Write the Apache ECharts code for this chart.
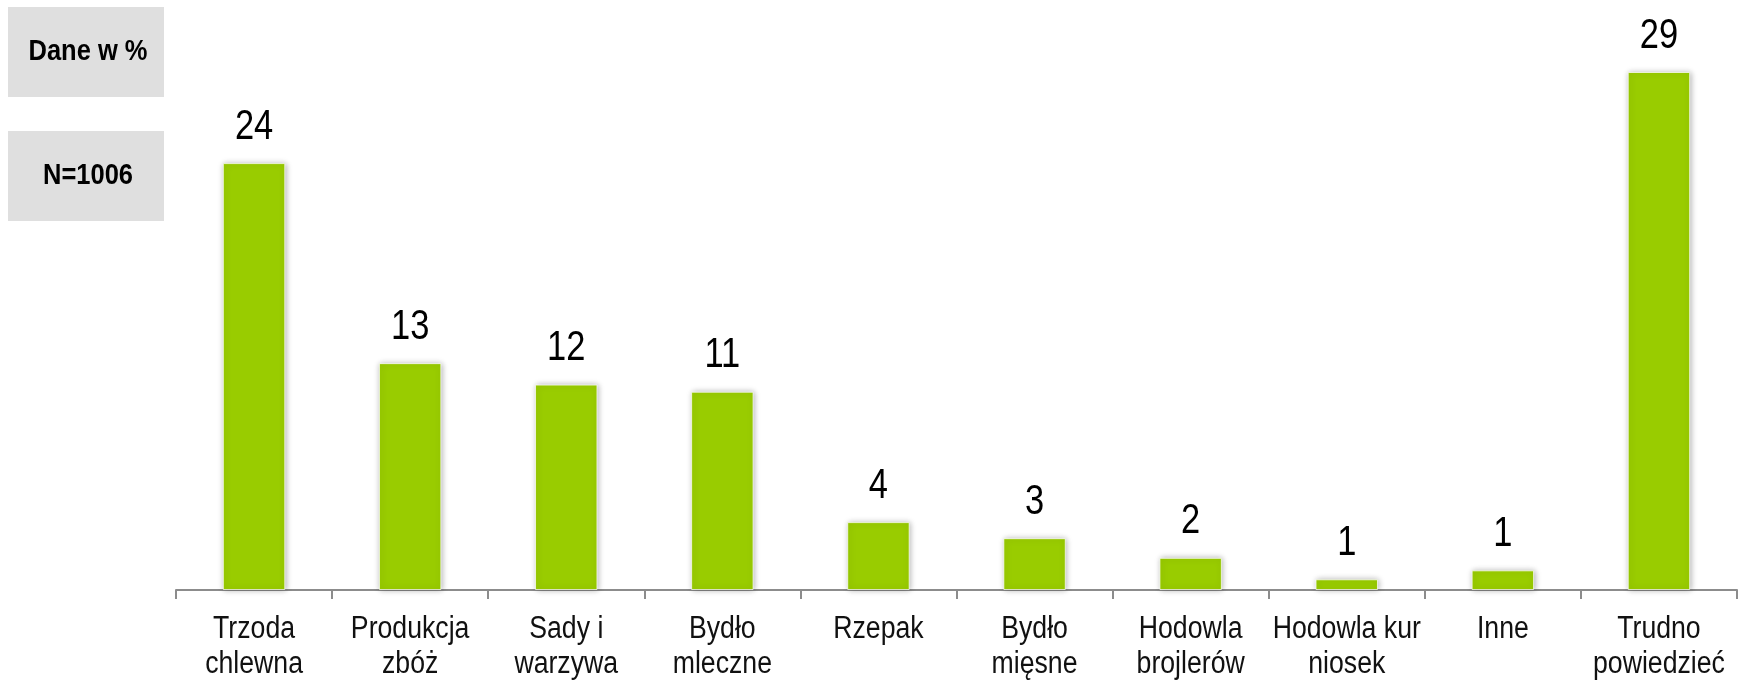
<!DOCTYPE html>
<html>
<head>
<meta charset="utf-8">
<script src="https://cdn.jsdelivr.net/npm/echarts@6/dist/echarts.min.js"></script>
<style>
  html, body { margin: 0; padding: 0; background: #fff; }
  #chart { width: 1739px; height: 682px; }
</style>
</head>
<body>
<div id="chart"></div>
<script>
// kategorie i wartosci
const categories = ['Trzoda\nchlewna', 'Produkcja\nzbóż', 'Sady i\nwarzywa', 'Bydło\nmleczne', 'Rzepak',
  'Bydło\nmięsne', 'Hodowla\nbrojlerów', 'Hodowla kur\nniosek', 'Inne', 'Trudno\npowiedzieć']
const values = [23.9, 12.7, 11.5, 11.1, 3.8, 2.9, 1.8, 0.6, 1.1, 29]
const valueLabels = ['24', '13', '12', '11', '4', '3', '2', '1', '1', '29']
const infoBoxes = ['Dane w %', 'N=1006']

const font = "'Liberation Sans', Arial, sans-serif"
// brak czcionki waskiej - sciskamy tekst w poziomie
const narrow = 0.82

const myChart = echarts.init(document.getElementById('chart'))

let option = {
  animation: false,
  grid: {
    left: 176,
    right: 2,
    top: 72,
    bottom: 92
  },
  xAxis: {
    type: 'category',
    data: categories,
    axisLine: {
      lineStyle: { color: '#8c8c8c', width: 2 }
    },
    axisTick: {
      show: true,
      length: 9,
      lineStyle: { color: '#8c8c8c', width: 2 }
    },
    axisLabel: { show: false }
  },
  yAxis: {
    type: 'value',
    min: 0,
    max: 29,
    show: false
  },
  series: [
    {
      type: 'bar',
      barWidth: '40%',
      data: values,
      itemStyle: {
        color: '#99cc00',
        borderColor: 'rgba(255,255,255,0.7)',
        borderWidth: 1,
        shadowBlur: 6,
        shadowColor: 'rgba(0,0,0,0.3)',
        shadowOffsetX: 1
      }
    },
    {
      // podpisy wartosci i kategorii
      type: 'custom',
      clip: false,
      silent: true,
      data: values.map((v, i) => [i, v]),
      renderItem: (params, api) => {
        const i = api.value(0)
        const top = api.coord([i, api.value(1)])
        const base = api.coord([i, 0])
        return {
          type: 'group',
          children: [
            {
              type: 'text',
              x: top[0],
              y: top[1] - 15,
              scaleX: narrow,
              style: {
                text: valueLabels[i],
                fill: '#000',
                font: '42px ' + font,
                lineHeight: 42,
                align: 'center',
                verticalAlign: 'bottom'
              }
            },
            {
              type: 'text',
              x: base[0],
              y: base[1] + 22,
              scaleX: 0.86,
              style: {
                text: categories[i],
                fill: '#111',
                font: '31px ' + font,
                lineHeight: 35,
                align: 'center',
                verticalAlign: 'top'
              }
            }
          ]
        }
      }
    }
  ],
  graphic: infoBoxes.map((txt, i) => ({
    type: 'group',
    left: 8,
    top: 7 + i * 124,
    children: [
      {
        type: 'rect',
        shape: { x: 0, y: 0, width: 156, height: 90 },
        style: { fill: '#dfdfdf' }
      },
      {
        type: 'text',
        x: 80,
        y: 45,
        scaleX: 0.85,
        style: {
          text: txt,
          fill: '#000',
          font: 'bold 30px ' + font,
          align: 'center',
          verticalAlign: 'middle'
        }
      }
    ]
  }))
}

myChart.setOption(option, true)
</script>
</body>
</html>
